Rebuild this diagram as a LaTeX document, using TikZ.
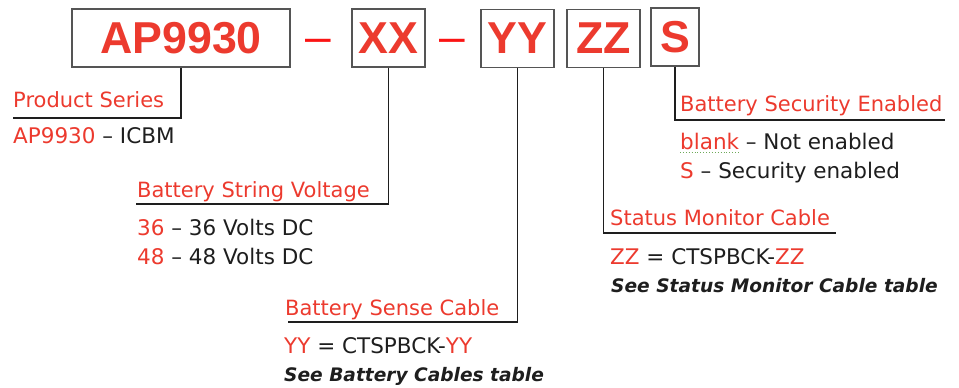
\documentclass[tikz,border=0pt]{standalone}
\usepackage{fontspec}
\setmainfont{DejaVu Sans}
\newfontfamily\codefont{Liberation Sans}
\usepackage{tikz}
\definecolor{pnred}{RGB}{236,58,46}
\definecolor{pnbar}{RGB}{250,20,20}
\definecolor{pnink}{RGB}{30,30,30}
\definecolor{pnframe}{RGB}{85,85,85}
\definecolor{pnspell}{RGB}{110,170,90}

\begin{document}
\begin{tikzpicture}[
    x=1pt, y=-1pt,
    code/.style={draw=pnframe, line width=1.4pt, inner sep=0pt, minimum height=58pt, text=pnred, font=\codefont\bfseries\fontsize{44.7}{46}\selectfont},
    hyph/.style={anchor=base, inner sep=0pt, text=pnbar, font=\codefont\fontsize{46}{48}\selectfont},
    head/.style={anchor=base west, inner sep=0pt, text=pnred, font=\fontsize{21}{24}\selectfont},
    item/.style={anchor=base west, inner sep=0pt, text=pnink, font=\fontsize{21.5}{24}\selectfont},
    note/.style={anchor=base west, inner sep=0pt, text=pnink, font=\bfseries\itshape\fontsize{18.6}{22}\selectfont},
    lead/.style={draw=pnink, line width=1.8pt}
]
\useasboundingbox (0,0) rectangle (959,388);

\node[code, minimum width=218pt] (ap) at (181,38) {AP9930};
\node[hyph] (d1) at (318.5,52) {–};
\node[code, minimum width=73pt] (xx) at (388.5,38) {XX};
\node[hyph] (d2) at (452.5,52) {–};
\node[code, minimum width=73pt] (yy) at (517.5,38.5) {YY};
\node[code, minimum width=73pt] (zz) at (603.5,38.5) {ZZ};
\node[code, minimum width=48pt] (ss) at (675,37) {S};


\node[head] (hap) at (13,107) {Product Series};
\node[item] (iap) at (13,143) {\textcolor{pnred}{AP9930} – ICBM};
\coordinate (lap) at (13,118);
\draw[lead] (ap.south) |- (lap);


\node[head] (hxx) at (137,197) {Battery String Voltage};
\node[item] (ixx1) at (137,235) {\textcolor{pnred}{36} – 36 Volts DC};
\node[item] (ixx2) at (137,264) {\textcolor{pnred}{48} – 48 Volts DC};
\coordinate (lxx) at (136,204);
\draw[lead] (xx.south) |- (lxx);


\node[head] (hyy) at (285,315) {Battery Sense Cable};
\node[item] (iyy) at (284,353) {\textcolor{pnred}{YY} = CTSPBCK-\textcolor{pnred}{YY}};
\node[note] (nyy) at (284,381) {See Battery Cables table};
\coordinate (lyy) at (288,322);
\draw[lead] (yy.south) |- (lyy);


\node[head] (hzz) at (610,225) {Status Monitor Cable};
\node[item] (izz) at (610,264) {\textcolor{pnred}{ZZ} = CTSPBCK-\textcolor{pnred}{ZZ}};
\node[note] (nzz) at (611,292) {See Status Monitor Cable table};
\coordinate (lzz) at (836,233);
\draw[lead] (zz.south) |- (lzz);


\node[head] (hss) at (680,111) {Battery Security Enabled};
\node[item] (iss1) at (680,149) {\textcolor{pnred}{blank} – Not enabled};
\node[item] (iss2) at (680,178) {\textcolor{pnred}{S} – Security enabled};
\coordinate (lss) at (945,120);
\draw[lead] (ss.south) |- (lss);
\draw[pnspell, dotted, line width=0.9pt] ([yshift=-3pt]iss1.base west) -- ++(59,0);

\end{tikzpicture}
\end{document}
